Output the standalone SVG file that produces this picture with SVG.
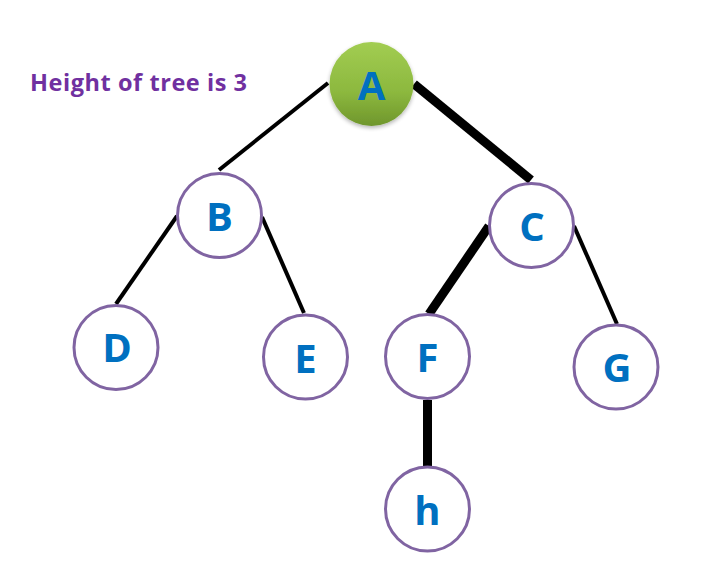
<svg xmlns="http://www.w3.org/2000/svg" width="718" height="577" viewBox="0 0 718 577">
<defs>
<linearGradient id="gA" x1="0" y1="0" x2="0" y2="1">
<stop offset="0" stop-color="#a2cd52"/>
<stop offset="0.6" stop-color="#8cb83e"/>
<stop offset="1" stop-color="#6f962c"/>
</linearGradient>
<filter id="sh" x="-20%" y="-20%" width="140%" height="150%">
<feGaussianBlur in="SourceAlpha" stdDeviation="2"/>
<feOffset dy="2"/>
<feComponentTransfer><feFuncA type="linear" slope="0.3"/></feComponentTransfer>
<feMerge><feMergeNode/><feMergeNode in="SourceGraphic"/></feMerge>
</filter>
</defs>
<style>
.edge{stroke:#000;fill:none;stroke-linecap:butt}
.thin{stroke-width:4}
.thick{stroke-width:9}
.node{fill:#fff;stroke:#8064a2;stroke-width:3}
.lbl{font-family:"Open Sans","Liberation Sans",sans-serif;font-weight:bold;font-size:40px;fill:#0070c0;text-anchor:middle}
.title{font-family:"Open Sans","Liberation Sans",sans-serif;font-weight:bold;font-size:23.5px;fill:#7030a0}
</style>
<rect width="718" height="577" fill="#fff"/>
<text class="title" x="30" y="91" textLength="217" lengthAdjust="spacing">Height of tree is 3</text>
<g id="edges">
<line class="edge thin" x1="328" y1="83" x2="219" y2="170"/>
<line class="edge thick" x1="414" y1="84" x2="531" y2="180"/>
<line class="edge thin" x1="177" y1="216" x2="116" y2="304"/>
<line class="edge thin" x1="262" y1="217" x2="304" y2="313"/>
<line class="edge thick" x1="489" y1="226" x2="429" y2="314"/>
<line class="edge thin" x1="574" y1="226" x2="617" y2="324"/>
<line class="edge thick" x1="427.5" y1="400" x2="427.5" y2="466"/>
</g>
<g id="node-A">
<circle cx="371.5" cy="84" r="42" fill="url(#gA)" filter="url(#sh)"/>
<text class="lbl" x="371.5" y="100">A</text>
</g>
<g id="node-B">
<circle class="node" cx="219.5" cy="215.5" r="42"/>
<text class="lbl" x="219.5" y="231">B</text>
</g>
<g id="node-C">
<circle class="node" cx="531.5" cy="225.5" r="42"/>
<text class="lbl" x="532" y="241">C</text>
</g>
<g id="node-D">
<circle class="node" cx="116" cy="347.5" r="42"/>
<text class="lbl" x="117" y="362">D</text>
</g>
<g id="node-E">
<circle class="node" cx="305.5" cy="357" r="42"/>
<text class="lbl" x="305.5" y="373">E</text>
</g>
<g id="node-F">
<circle class="node" cx="427.5" cy="356.5" r="42"/>
<text class="lbl" x="427.5" y="372">F</text>
</g>
<g id="node-G">
<circle class="node" cx="616" cy="367" r="42"/>
<text class="lbl" x="617" y="382">G</text>
</g>
<g id="node-h">
<circle class="node" cx="427.5" cy="509" r="42"/>
<text class="lbl" x="427.5" y="525">h</text>
</g>
</svg>
